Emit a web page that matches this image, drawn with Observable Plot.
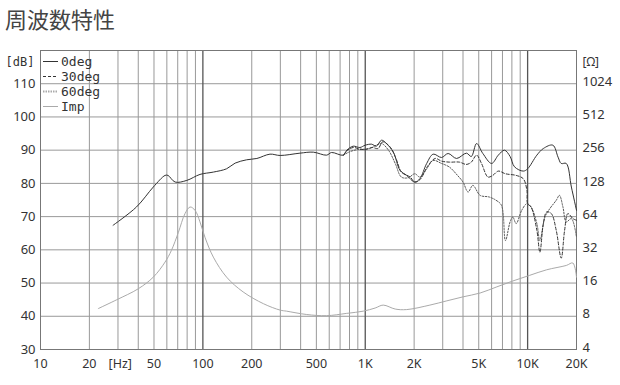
<!DOCTYPE html>
<html>
<head>
<meta charset="utf-8">
<script src="https://cdn.jsdelivr.net/npm/d3@7"></script>
<script src="https://cdn.jsdelivr.net/npm/@observablehq/plot@0.6"></script>
<style>
  html, body { margin: 0; padding: 0; background: #fff; }
  #wrap { position: relative; width: 620px; height: 385px; overflow: hidden; }
  #title { position: absolute; left: 5px; top: 0; height: 40px; line-height: 36px;
           font-family: "Noto Sans CJK JP", sans-serif; font-size: 22px; color: #444; }
  #chart { position: absolute; left: 0; top: 40px; }
  #legend { position: absolute; left: 43px; top: 54px; font-family: "DejaVu Sans Mono", monospace;
            font-size: 13px; color: #333; }
  #legend .row { height: 15px; line-height: 15px; display: flex; align-items: center; }
  #legend svg { margin-right: 3px; }
</style>
</head>
<body>
<div id="wrap">
  <div id="title">周波数特性</div>
  <div id="chart"></div>
  <div id="legend"></div>
</div>
<script>
// ---- data ----
const freq0 = [28,39,49.5,58.5,61,67.5,79.6,96,116,140,158,186,215,259,299,396,479,578,620,733,770,843,927,1000,1094,1170,1260,1350,1490,1640,1800,2020,2170,2390,2620,2950,3240,3650,4200,4500,4850,5300,6000,6600,7200,7800,8300,9400,10000,11400,12500,14300,15400,16100,17300,18600,20000];
const db0 = [67.4,72.9,78.9,82.4,82.4,80.4,80.9,82.7,83.4,84.4,86.1,87.1,87.5,88.8,88.4,89.1,89.4,88.5,89.3,88.5,90,91.2,90.8,91.5,91.8,91.2,93,92,89.4,83.9,82.4,80.4,81.4,86,88.8,87.8,89,87.5,89.1,88.1,92,89,86,88.5,90,88.1,85,83.7,84.4,88.5,90.5,91.5,87.9,86,86,78.9,71.9];

const freq30 = [733,770,843,927,1000,1100,1200,1280,1420,1560,1670,1890,2020,2170,2440,2700,2950,3300,3800,4200,4500,4850,5200,5700,6100,6600,7300,8500,9400,9900,10000,10500,11400,11900,12500,13100,14000,15000,16100,16900,17700,19000,20000];
const db30 = [88.5,89.8,90.8,90.3,90.2,90.8,90.5,92.5,91,87,83.4,81.9,80.4,81.1,85.4,87.5,86.7,86.4,86.4,85.7,86.4,88.5,86,81.9,82.4,83.7,82.9,82.4,81.4,77.9,73.9,72.9,65.9,59.3,67.9,71.4,70.9,65.9,57.5,65.9,70.9,69.4,68.9];

const freq60 = [733,800,900,1000,1070,1170,1260,1390,1530,1670,1840,2020,2170,2390,2620,2950,3300,3700,4000,4300,4600,5100,5800,6400,6900,7300,7800,8100,8500,9200,9900,10500,11400,11900,12800,13700,15000,15700,16500,17300,18600,20000];
const db60 = [88.5,89.5,90.2,90.3,90.5,91.5,92,90,86,81.9,81.7,82.9,81.9,84.4,86.9,86,84.9,82.4,80.4,77.4,79.4,76.4,75.9,74.9,73.4,62.8,68.4,69.9,67.9,71.9,73.9,72.9,67.9,62.8,69.9,72.4,74.9,76.4,72.9,68.4,69.4,63.8];

const freqImp = [22.7,29.5,40,49.5,58.5,64,70.7,77.6,83.4,89.5,96,103,116,140,177,236,299,328,436,578,769,972,1150,1290,1530,1800,2500,3150,4000,5100,6400,8100,10300,13100,17300,19000,20000];
const ohmImp = [9.4,11.3,14.2,18.1,24.8,31.6,46.2,68.1,78.2,73,57.3,41.6,27.5,18.1,13.3,10.4,9.1,8.9,8.3,8.1,8.5,8.9,9.5,10.1,9.3,9.2,10.1,11.0,12.0,13.0,14.7,16.7,18.8,21.1,23.1,24.3,18.1];

const xTicks = [10,20,31,50,100,200,500,1000,2000,5000,10000,20000];
const xTickLabels = ["10","20","[Hz]","50","100","200","500","1K","2K","5K","10K","20K"];
const dbTicks = [30,40,50,60,70,80,90,100,110];
const ohmTicks = [4,8,16,32,64,128,256,512,1024];
const xGridMinor = [20,30,40,50,60,70,80,90,200,300,400,500,600,700,800,900,2000,3000,4000,5000,6000,7000,8000,9000];
const xGridMajor = [100,1000,10000];
const yGrid = [40,50,60,70,80,90,100,110];

const series = ["0deg","30deg","60deg","Imp"];

// impedance mapped onto the dB axis: 4Ω ↔ 30 dB, one octave ↔ 10 dB
const ohmToDb = z => 30 + 10 * Math.log2(z / 4);

const rows0 = freq0.map((f,i) => ({f, v: db0[i]}));
const rows30 = freq30.map((f,i) => ({f, v: db30[i]}));
const rows60 = freq60.map((f,i) => ({f, v: db60[i]}));
const rowsImp = freqImp.map((f,i) => ({f, v: ohmToDb(ohmImp[i])}));

const xLabelMap = new Map(xTicks.map((t, i) => [t, xTickLabels[i]]));
const ohmLabelMap = new Map(dbTicks.map((t, i) => [t, String(ohmTicks[i])]));

const font = "'Noto Sans', sans-serif";

const chart = Plot.plot({
  width: 620,
  height: 345,
  marginTop: 10,
  marginBottom: 36,
  marginLeft: 40,
  marginRight: 44,
  style: { fontFamily: font, fontSize: "13px", color: "#333", background: "#fff" },
  x: { type: "log", domain: [10, 20000] },
  y: { domain: [30, 120] },
  marks: [
    Plot.ruleX(xGridMinor, { stroke: "#999", strokeWidth: 1 }),
    Plot.ruleY(yGrid, { stroke: "#999", strokeWidth: 1 }),
    Plot.ruleX(xGridMajor, { stroke: "#555", strokeWidth: 1.3 }),
    Plot.frame({ stroke: "#777", strokeWidth: 1 }),
    Plot.axisX(xTicks, { x: d => d, text: d => xLabelMap.get(d), tickSize: 0, tickPadding: 10, label: null, fontSize: 12.5 }),
    Plot.axisY({ anchor: "left", ticks: dbTicks, tickSize: 0, tickPadding: 5, label: null, fontSize: 13 }),
    Plot.axisY({ anchor: "right", ticks: dbTicks, tickFormat: d => ohmLabelMap.get(d), tickSize: 0, tickPadding: 6, label: null, fontSize: 13, dy: -2 }),
    Plot.text(["[dB]"], { frameAnchor: "top-left", textAnchor: "end", dx: -6, dy: 7, fontSize: 12, fontFamily: "DejaVu Sans Mono, monospace", fill: "#333" }),
    Plot.text(["[Ω]"], { frameAnchor: "top-right", textAnchor: "start", dx: 6, dy: 7, fontSize: 12, fill: "#333" }),
    Plot.line(rowsImp, { x: "f", y: "v", stroke: "#aaa", strokeWidth: 1, curve: "catmull-rom" }),
    Plot.line(rows60, { x: "f", y: "v", stroke: "#555", strokeWidth: 1, strokeDasharray: "1.5,1.5", curve: "catmull-rom" }),
    Plot.line(rows30, { x: "f", y: "v", stroke: "#333", strokeWidth: 1, strokeDasharray: "3,2", curve: "catmull-rom" }),
    Plot.line(rows0, { x: "f", y: "v", stroke: "#333", strokeWidth: 1, curve: "catmull-rom" })
  ]
});
document.getElementById("chart").appendChild(chart);

// legend
const legendStyles = {
  "0deg": { stroke: "#333", dash: null, w: 1 },
  "30deg": { stroke: "#333", dash: "3,2", w: 1 },
  "60deg": { stroke: "#aaa", dash: "1.5,1", w: 2 },
  "Imp": { stroke: "#aaa", dash: null, w: 1 }
};
const leg = document.getElementById("legend");
series.forEach(s => {
  const st = legendStyles[s];
  const row = document.createElement("div");
  row.className = "row";
  row.innerHTML = `<svg width="15" height="15"><line x1="0" x2="15" y1="7.5" y2="7.5" stroke="${st.stroke}" stroke-width="${st.w}" ${st.dash ? `stroke-dasharray="${st.dash}"` : ""}/></svg><span>${s}</span>`;
  leg.appendChild(row);
});
</script>
</body>
</html>
